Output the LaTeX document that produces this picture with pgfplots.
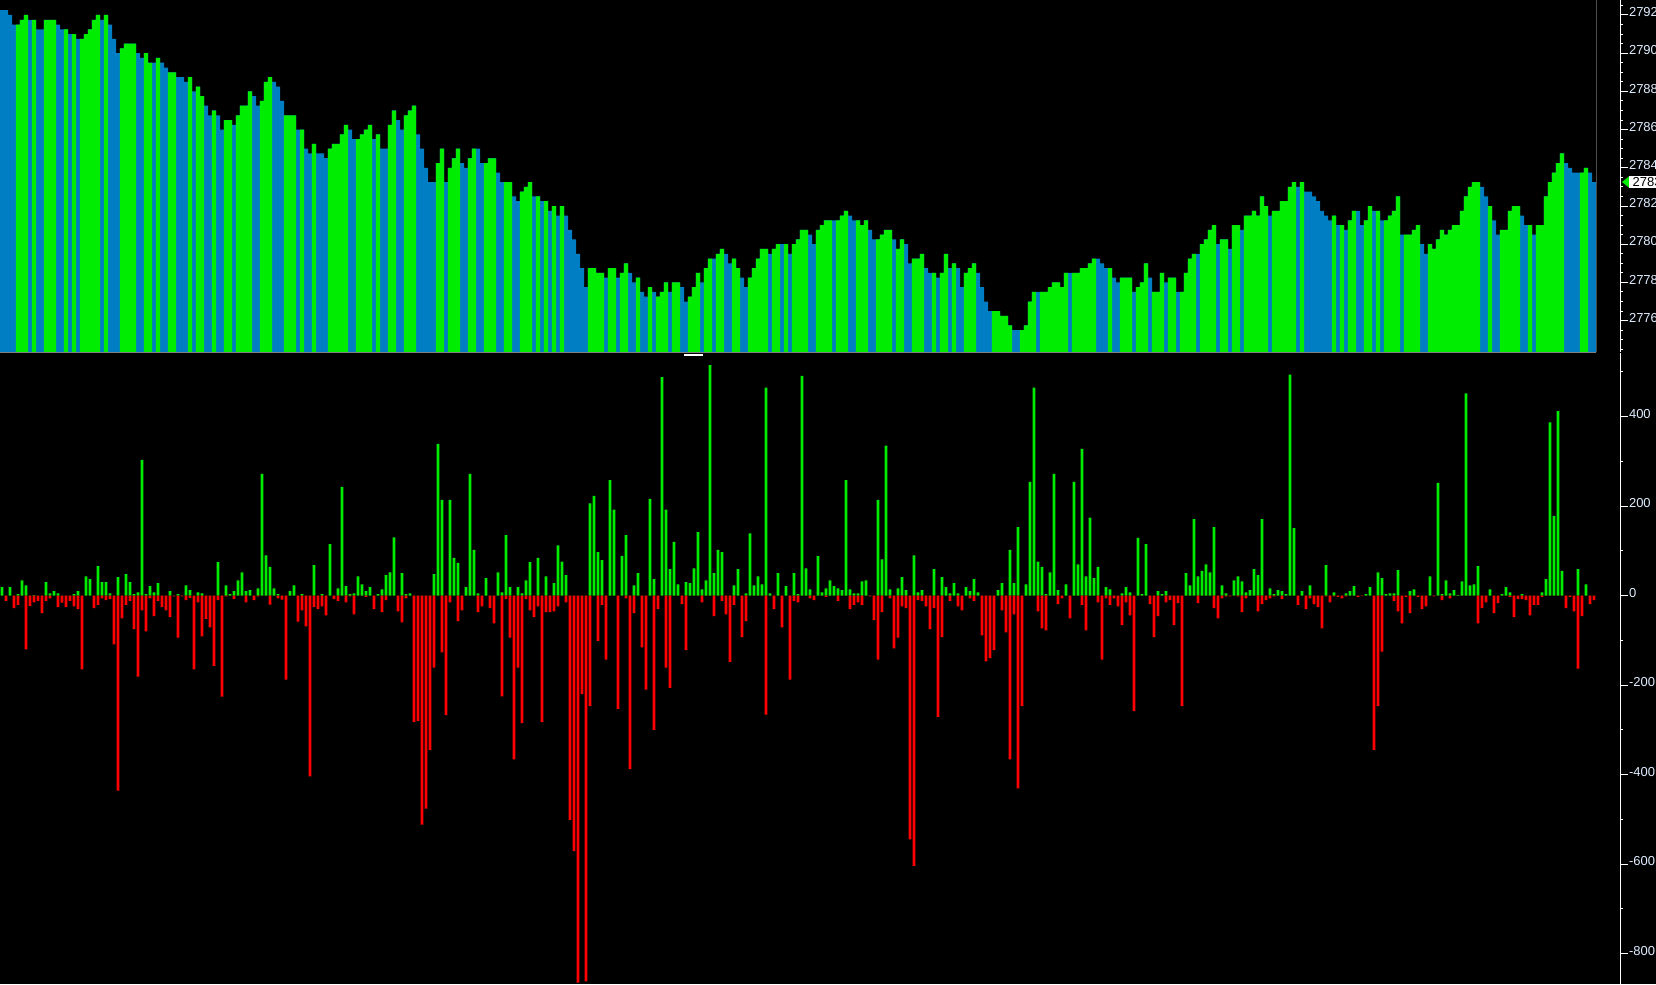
\documentclass[border=0pt]{standalone}
\usepackage{pgfplots}
\pgfplotsset{compat=1.18}
\usepackage{pgfplotstable}
\usepackage{fontspec}
\setmainfont{Liberation Sans}
\definecolor{barblue}{RGB}{0,126,196}
\definecolor{bargreen}{RGB}{0,236,0}
\definecolor{barred}{RGB}{255,0,0}
\definecolor{lbl}{RGB}{224,238,255}
% p = price bar top, c = 1 green / 0 blue, pos/neg = lower histogram
\pgfplotstableread{
p c pos neg
2792.25 0 19 0
2792.25 0 0 -12
2792 0 19 0
2791.5 0 0 -28
2791.5 1 3 -21
2791.75 1 34 0
2792 1 23 -120
2791.75 0 0 -23
2791.75 1 1 -15
2791.25 0 0 -12
2791.25 0 0 -39
2791.75 1 30 -12
2791.75 1 5 -6
2791.75 1 10 0
2791.5 0 5 -26
2791.25 0 0 -16
2791.25 1 0 -26
2791 0 0 -12
2791 1 3 -24
2790.75 0 10 -30
2790.75 1 0 -165
2791 1 43 0
2791.25 1 37 0
2791.75 1 0 -28
2792 1 66 -21
2791.75 0 30 -6
2792 1 30 -10
2791.5 0 5 -8
2790.75 0 0 -109
2790 0 41 -436
2790.25 1 0 -51
2790.5 1 48 -21
2790.5 1 30 -12
2790.5 1 3 -75
2790 0 7 -181
2789.75 0 303 -33
2790 1 3 -80
2789.5 1 21 -6
2789.5 0 7 -46
2789.75 1 28 -12
2789.5 0 0 -26
2789.25 0 0 -33
2789 1 10 -48
2789 1 0 -2
2788.75 0 3 -94
2788.75 0 0 -2
2788.5 0 23 -10
2788.75 1 12 -5
2788 0 0 -165
2788.25 1 7 -15
2787.75 1 5 -91
2787.25 0 0 -52
2786.75 0 0 -71
2787 1 0 -157
2786.75 0 75 -10
2786 0 0 -226
2786.5 1 23 -2
2786.5 1 3 0
2786.25 0 10 -8
2786.75 1 34 0
2787.25 1 52 0
2787.25 1 10 -15
2788 1 12 0
2787.75 0 0 -10
2787.25 0 16 -2
2787.5 1 272 0
2788.5 1 90 0
2788.75 1 64 -20
2788.5 0 16 0
2788.25 0 3 -6
2787.5 0 0 -9
2786.75 1 0 -188
2786.75 1 10 0
2786.75 1 23 0
2786 0 0 -58
2786 1 3 -33
2785 0 0 -69
2784.75 0 0 -404
2785.25 1 68 -26
2784.75 0 0 -30
2784.75 0 3 -24
2784.5 0 0 -44
2785 1 115 0
2785.25 1 0 -8
2785.25 1 16 -12
2785.75 1 243 0
2786.25 1 21 -15
2786 0 3 -2
2785.5 0 5 -42
2785.5 1 43 0
2785.75 1 25 0
2786 1 10 -3
2786.25 1 19 0
2785.5 0 0 -30
2785.75 1 3 0
2785 0 14 -37
2785 0 46 -10
2786.25 1 52 0
2787 1 130 0
2786.5 0 0 -35
2786 0 50 -60
2786.75 1 3 -6
2787 1 5 0
2787.25 1 0 -283
2785.75 0 0 -280
2785 0 0 -512
2784 0 0 -476
2783.25 0 0 -345
2783.25 0 48 -161
2784.25 1 339 0
2785 1 214 -127
2783.25 0 0 -267
2784 1 214 -15
2784.5 1 84 0
2785 1 73 -57
2784.25 0 0 -33
2784 0 19 0
2784.5 1 272 0
2785 1 102 0
2785 0 5 -37
2784.25 0 0 -24
2784.25 1 39 0
2784.5 1 0 -28
2784.5 1 0 -62
2783.75 0 52 0
2783.25 0 7 -225
2783.25 1 135 -8
2783.25 1 19 -94
2782.5 0 0 -366
2782.25 0 19 -161
2782.75 1 5 -285
2783 1 34 -8
2783.25 1 75 -33
2782.5 0 0 -48
2782.5 1 84 -24
2782.25 0 0 -283
2782.25 1 43 -37
2781.75 0 0 -37
2782 1 28 -35
2781.5 0 112 -24
2782 1 76 0
2781.5 0 46 -15
2780.75 0 0 -501
2780.25 0 0 -571
2779.5 0 0 -865
2778.75 0 0 -220
2777.75 0 0 -862
2778.75 1 206 -247
2778.75 1 223 0
2778.5 1 97 -101
2778.5 1 79 -21
2778.25 0 0 -143
2778.75 1 258 0
2778.75 1 192 0
2778.25 0 0 -253
2778.5 1 89 0
2779 1 135 -6
2778.5 0 0 -388
2778 0 23 -39
2778.25 1 50 0
2777.5 0 0 -116
2777.25 0 0 -210
2777.75 1 216 0
2777.5 0 37 -300
2777.25 1 0 -30
2777.5 1 488 0
2778 1 192 -161
2777.5 0 59 -206
2778 1 120 0
2778 1 25 0
2777.75 0 0 -19
2777 0 30 -122
2777.25 1 28 0
2777.75 1 61 0
2778.5 1 142 0
2778 0 14 -15
2778.75 1 34 0
2779.25 1 515 0
2779.25 0 50 -46
2779.5 1 102 0
2779.75 1 97 -12
2779.5 0 0 -42
2779 0 0 -148
2779.25 1 23 -21
2778.75 1 59 0
2778.25 0 0 -93
2777.75 0 5 -57
2778.25 1 139 0
2778.75 1 23 0
2779.25 1 43 0
2779.75 1 25 0
2779.75 1 465 -266
2779.5 0 5 0
2779.75 1 0 -30
2780 1 50 0
2780 0 0 -71
2780 1 21 0
2779.5 0 0 -188
2780 1 50 -12
2780.25 1 3 -15
2780.75 1 491 0
2780.75 1 61 0
2780.5 0 14 -6
2780 0 0 -10
2780.75 1 88 0
2781 1 7 0
2781.25 1 16 -3
2781.25 1 34 0
2781.25 0 21 0
2781.25 1 16 -12
2781.5 1 12 0
2781.75 1 258 0
2781.5 0 14 -30
2781.25 0 5 -21
2781.25 1 5 -15
2781 1 32 -21
2781.25 1 34 0
2780.75 0 0 -2
2780.25 0 0 -55
2780.25 1 214 -143
2780.5 1 81 -37
2780.75 1 335 0
2780.75 1 14 -6
2780.25 0 0 -118
2779.75 1 16 -94
2780.25 1 41 -24
2780 0 12 -28
2779 0 0 -545
2779.25 1 90 -604
2779.25 1 7 -10
2779.5 1 12 -12
2778.75 0 0 -24
2778.5 0 0 -75
2778.5 1 59 -28
2778.25 0 0 -271
2778.5 1 41 -93
2779.5 1 19 0
2778.75 0 5 -12
2779 1 28 0
2778.75 0 5 -24
2777.75 0 0 -33
2778.5 1 19 0
2778.75 1 10 -6
2779 1 37 -12
2778.5 0 7 0
2777.75 0 0 -89
2777 0 0 -147
2776.5 0 0 -140
2776.5 1 0 -122
2776.5 1 12 0
2776.25 1 28 -33
2776.25 1 0 -82
2775.75 1 102 -366
2775.5 0 28 -42
2775.5 0 153 -431
2775.5 1 0 -247
2775.75 1 25 0
2777 1 254 0
2777.5 1 465 0
2777.5 0 76 -35
2777.5 1 64 -73
2777.5 1 3 -78
2777.75 1 52 0
2778 1 272 0
2778 1 12 -19
2777.75 1 0 -6
2778.5 1 25 0
2778.5 0 0 -51
2778.5 1 254 0
2778.5 1 70 0
2778.75 1 328 -21
2778.75 1 43 -78
2779 1 174 0
2779.25 1 39 0
2779.25 0 64 -15
2779 0 0 -143
2778.75 0 19 -6
2778.75 1 14 -21
2778.25 0 0 -6
2778 0 0 -24
2778.25 1 5 -66
2778.25 1 19 -15
2778.25 1 7 -44
2777.5 0 0 -258
2777.75 1 129 0
2778 1 3 0
2779 1 115 0
2778.25 0 0 -19
2777.5 1 0 -93
2777.5 1 10 -46
2778.5 1 3 0
2778 0 10 -15
2778.25 1 0 -10
2778.25 1 0 -66
2777.5 0 0 -17
2777.5 1 0 -247
2778.5 1 50 0
2779.25 1 23 0
2779.5 1 171 0
2779.5 0 43 -17
2780 1 55 0
2780.25 1 70 0
2780.75 1 52 0
2781 1 153 -28
2780 0 0 -51
2780.25 1 23 -6
2780.25 1 5 -2
2779.75 0 0 -2
2781 1 34 0
2781 1 43 -2
2780.75 0 32 -37
2781.5 1 7 -6
2781.5 1 12 0
2781.75 1 59 0
2781.5 1 46 -35
2782.5 1 171 -19
2782 1 0 -10
2781.5 0 16 -6
2781.75 1 3 -2
2781.75 1 12 0
2782.25 1 10 -8
2782.25 1 3 0
2783 1 494 0
2783.25 1 151 0
2783 0 0 -21
2783.25 1 10 0
2782.75 0 0 -30
2782.75 0 23 -6
2782.5 0 0 -19
2782.25 0 0 -26
2781.75 0 0 -73
2781.5 0 68 -2
2781.25 0 0 -15
2781.5 1 7 -2
2781 0 0 -3
2781 1 0 -6
2780.75 0 5 -2
2781.25 1 10 0
2781.75 1 21 0
2781.75 0 0 -3
2781 0 0 -1
2781.25 1 3 0
2782 1 19 0
2781.75 0 0 -345
2781.75 1 52 -247
2781.25 0 39 -125
2781.25 1 3 0
2781.5 1 5 0
2781.75 1 5 -12
2782.5 1 57 -35
2780.5 0 0 -62
2780.5 1 0 -3
2780.5 1 10 -39
2780.75 1 14 0
2781 1 0 -3
2780 0 0 -30
2779.5 0 0 -24
2780 1 43 0
2779.75 1 0 -2
2780.25 1 252 0
2780.75 1 3 -10
2780.5 1 34 0
2780.75 1 5 -6
2781 1 12 0
2781 1 1 0
2781.75 1 32 0
2782.5 1 452 0
2783 1 23 0
2783.25 1 25 0
2783.25 1 66 -62
2783 0 0 -28
2782.5 0 0 -15
2782 1 14 0
2781.25 0 0 -39
2780.5 0 0 -17
2780.75 1 3 0
2780.75 1 19 0
2781.75 1 7 -3
2782 1 0 -48
2782 1 0 -8
2781.5 0 3 -8
2781 0 0 -10
2781 1 0 -44
2780.5 0 0 -21
2781 1 0 -21
2781 1 7 -3
2782.5 1 37 0
2783.25 1 387 0
2783.75 1 178 0
2784.25 1 412 0
2784.75 1 55 0
2784.25 0 0 -28
2784 0 0 -3
2783.75 0 0 -35
2783.75 0 59 -163
2783.75 1 0 -46
2784 1 25 0
2783.75 0 0 -19
2783.25 0 0 -10
}\data
\pgfplotsset{
  panel/.style={
    scale only axis, width=486pt,
    xmin=0, xmax=1620,
    axis x line=none, axis y line*=right,
    y axis line style={white, line width=0.3pt},
    tick style={white, line width=0.3pt},
    ytick align=outside,
    major tick length=2.5pt, minor tick length=1pt,
    yticklabel style={font=\fontsize{3.9}{4.5}\selectfont, text=lbl,
      anchor=base west, inner sep=0pt, xshift=0pt, yshift=-0.5pt},
    /pgf/number format/assume math mode=true,
    /pgf/number format/1000 sep={},
  }
}
\begin{document}
\begin{tikzpicture}
\fill[black] (0,0) rectangle (496.8pt,295.2pt);
\begin{axis}[panel, at={(0,189.6pt)}, anchor=south west, height=105.6pt,
  y coord trafo/.code={\pgfmathparse{#1-2774}},
  y coord inv trafo/.code={\pgfmathparse{#1+2774}},
  ymin=2774.356, ymax=2792.785,
  ytick={2776,2778,2780,2782,2784,2786,2788,2790,2792},
  minor ytick={2774.5,2775,2775.5,2776.5,2777,2777.5,2778.5,2779,2779.5,2780.5,2781,2781.5,2782.5,2783,2783.5,2784.5,2785,2785.5,2786.5,2787,2787.5,2788.5,2789,2789.5,2790.5,2791,2791.5,2792.5}]
\addplot[ybar, bar shift=0pt, bar width=4.3, fill=barblue, draw=none]
  table[x expr=\coordindex*4+2, y=p] {\data};
\addplot[ybar, bar shift=0pt, bar width=4.3, fill=bargreen, draw=none]
  table[x expr=\coordindex*4+2, y expr={\thisrow{c}*(\thisrow{p}-2774)+2774}] {\data};
\end{axis}
\begin{axis}[panel, at={(0,0)}, anchor=south west, height=189.3pt,
  ymin=-868, ymax=542,
  ytick={-800,-600,-400,-200,0,200,400},
  minor ytick={-700,-500,-300,-100,100,300,500}]
\addplot[ybar, bar shift=0pt, bar width=2.6, fill=bargreen, draw=none]
  table[x expr=\coordindex*4+2, y=pos] {\data};
\addplot[ybar, bar shift=0pt, bar width=2.6, fill=barred, draw=none]
  table[x expr=\coordindex*4+2, y=neg] {\data};
\end{axis}
% panel separators
\draw[gray, line width=0.3pt] (0,189.45pt) -- (478.8pt,189.45pt);
\draw[black!70!white, line width=0.3pt] (478.8pt,189.6pt) -- (478.8pt,295.2pt);
\draw[white, line width=0.4pt] (205.2pt,188.7pt) -- (210.9pt,188.7pt);
% last price marker
\fill[bargreen] (486.6pt,240.6pt) -- (488.7pt,242.3pt) -- (488.7pt,238.9pt) -- cycle;
\fill[white] (488.7pt,238.85pt) rectangle (500pt,242.35pt);
\node[anchor=base west, inner sep=0pt, text=black, font=\fontsize{3.9}{4.5}\selectfont] at (489.6pt,239.2pt) {2783.25};
\pgfresetboundingbox
\useasboundingbox (0,0) rectangle (496.8pt,295.2pt);
\end{tikzpicture}
\end{document}
